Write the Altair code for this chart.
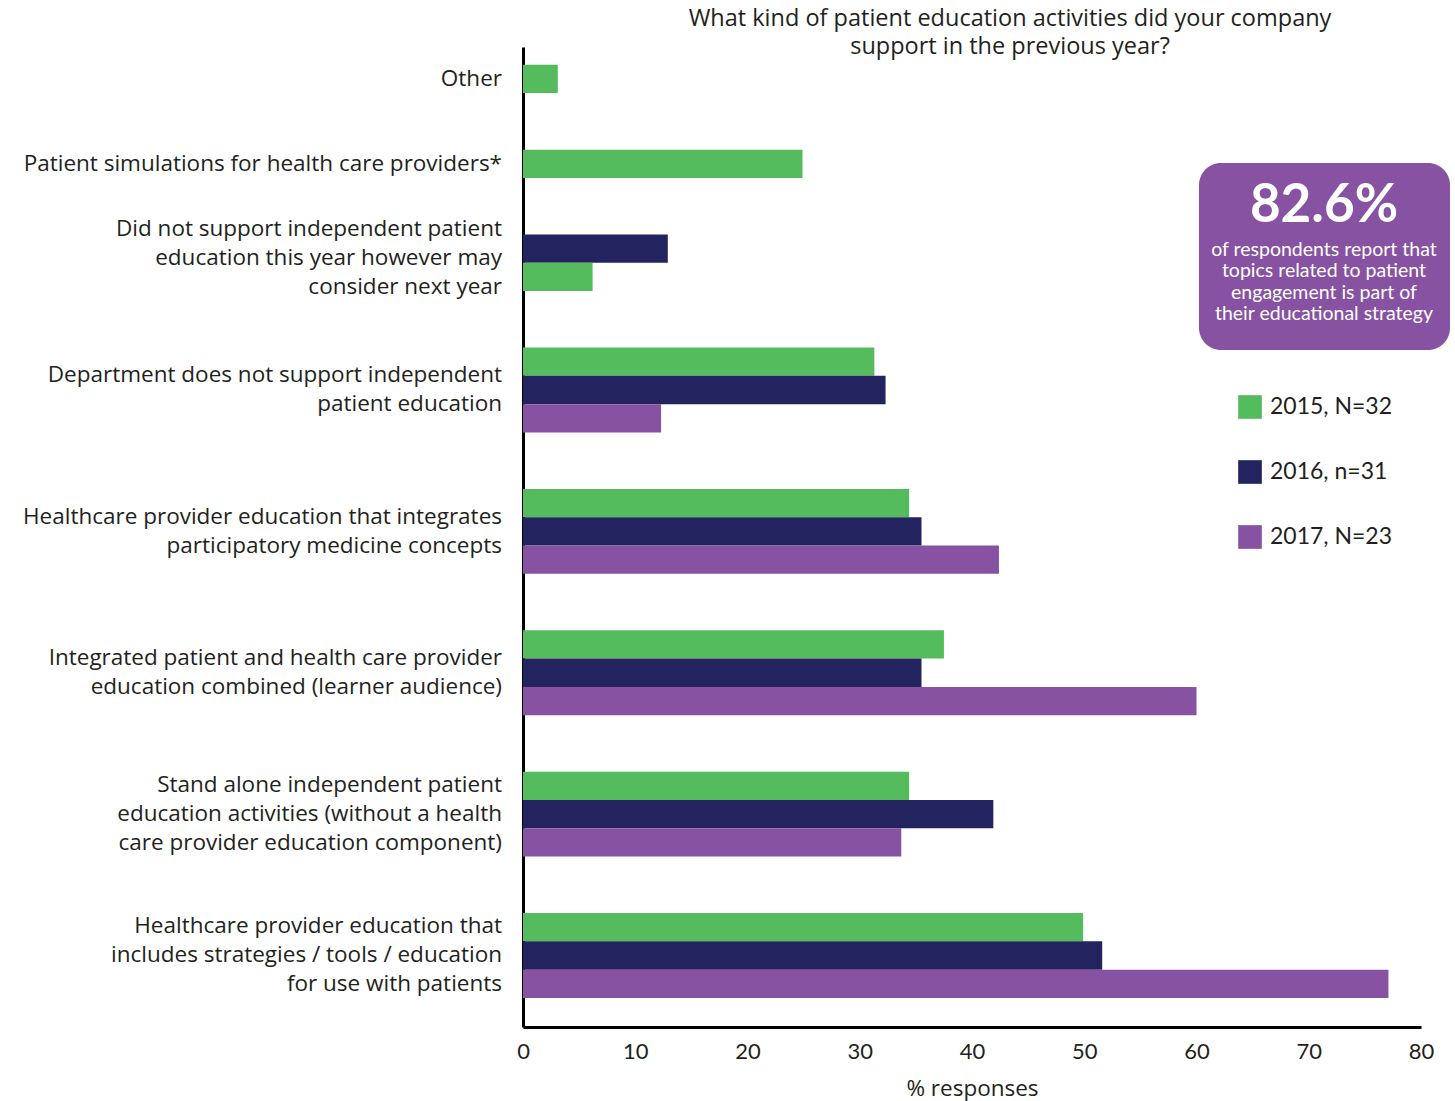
import altair as alt
import pandas as pd

categories = [
    "Other",
    "Patient simulations for health care providers*",
    "Did not support independent patient\neducation this year however may\nconsider next year",
    "Department does not support independent\npatient education\u00a0",
    "Healthcare provider education that integrates\u00a0\nparticipatory medicine concepts",
    "Integrated patient and health care provider\u00a0\neducation combined (learner audience)",
    "Stand alone independent patient\neducation activities (without a health\ncare provider education component)",
    "Healthcare provider education that\nincludes strategies / tools / education\nfor use with patients",
]
series = ["2015, N=32", "2016, n=31", "2017, N=23"]
v2015 = [3.1, 24.9, 6.2, 31.3, 34.4, 37.5, 34.4, 49.9]
v2016 = [None, None, 12.9, 32.3, 35.5, 35.5, 41.9, 51.6]
v2017 = [None, None, None, 12.3, 42.4, 60.0, 33.7, 77.1]
colors = ["#55BC5D", "#23235F", "#8652A1"]

title_lines = ["What kind of patient education activities did your company",
               "support in the previous year?"]
callout_big = "82.6%"
callout_small = "of respondents report that\ntopics related to patient\nengagement is part of\ntheir educational strategy"

FONT = "Open Sans"
NUMFONT = "Lato"
TXT = "#231F20"
LH = 29

# Build bar rows and y band domain (spacer bands between groups)
rows, domain, label_specs = [], [], []
for i, cat in enumerate(categories):
    if i > 0:
        domain += [f"gap{i}a", f"gap{i}b"]
    vals = {series[0]: v2015[i], series[1]: v2016[i], series[2]: v2017[i]}
    order = series if i != 2 else [series[1], series[0], series[2]]
    present = [s for s in order if vals[s] is not None]
    keys = []
    for s in present:
        k = f"{i}|{s}"
        keys.append(k)
        domain.append(k)
        rows.append({"key": k, "series": s, "value": vals[s]})
    nlines = cat.count("\n") + 1
    shift = -(nlines - 1) * LH / 2
    if len(keys) % 2 == 1:
        label_specs.append((keys[len(keys) // 2], cat, shift))
    else:
        label_specs.append((keys[0], cat, shift + 9))

df = pd.DataFrame(rows)
yscale = alt.Scale(domain=domain, paddingInner=0, paddingOuter=0.83, align=0.38)

bars = alt.Chart(df).mark_bar().encode(
    x=alt.X("value:Q",
            scale=alt.Scale(domain=[0, 80], nice=False),
            axis=alt.Axis(values=list(range(0, 81, 10)), ticks=False, grid=False,
                          domainColor="black", domainWidth=3, labelFlush=False,
                          labelFontSize=22, labelFont=NUMFONT, labelColor=TXT, labelPadding=14,
                          title="% responses", titleFontSize=22.5, titleFont=FONT,
                          titleFontWeight="normal", titleColor=TXT, titlePadding=15)),
    y=alt.Y("key:N", scale=yscale,
            axis=alt.Axis(labels=False, ticks=False, grid=False, title=None,
                          domainColor="black", domainWidth=3)),
    color=alt.Color("series:N",
                    scale=alt.Scale(domain=series, range=colors),
                    legend=alt.Legend(orient="none", legendX=715, legendY=348, title=None,
                                      symbolType="square", symbolSize=560,
                                      symbolStrokeWidth=0, symbolOpacity=1,
                                      labelFontSize=23, labelFont=NUMFONT, labelColor=TXT,
                                      rowPadding=41, labelOffset=8, padding=0)),
)

label_layers = []
for key, text, dy in label_specs:
    label_layers.append(
        alt.Chart(pd.DataFrame({"key": [key], "label": [text]})).mark_text(
            align="right", baseline="middle", lineBreak="\n", lineHeight=LH,
            fontSize=22.5, font=FONT, color=TXT, dy=dy
        ).encode(x=alt.value(-21), y=alt.Y("key:N", scale=yscale), text="label:N")
    )

title_layers = []
for j, line in enumerate(title_lines):
    title_layers.append(
        alt.Chart(pd.DataFrame({"t": [line]})).mark_text(
            align="center", baseline="middle", fontSize=23.5, font=FONT, color=TXT
        ).encode(x=alt.value(487), y=alt.value(-28 + 28 * j), text="t:N")
    )

box = alt.Chart(pd.DataFrame({"t": [callout_big]})).mark_rect(
    color="#8652A1", cornerRadius=22
).encode(x=alt.value(676), x2=alt.value(927), y=alt.value(116), y2=alt.value(303))

big = alt.Chart(pd.DataFrame({"t": [callout_big]})).mark_text(
    align="center", baseline="middle", fontSize=53, fontWeight="bold",
    font=NUMFONT, color="white"
).encode(x=alt.value(801), y=alt.value(159), text="t:N")

small = alt.Chart(pd.DataFrame({"t": [callout_small]})).mark_text(
    align="center", baseline="middle", lineBreak="\n", lineHeight=21.3,
    fontSize=19.5, font=NUMFONT, color="white"
).encode(x=alt.value(801), y=alt.value(203), text="t:N")

chart = alt.layer(bars, *label_layers, *title_layers, box, big, small).properties(
    width=898, height=980,
    autosize=alt.AutoSizeParams(type="none"),
    padding={"left": 523, "top": 47, "right": 34, "bottom": 74},
    background="white",
).configure_view(strokeWidth=0)

chart.save("out.html", embed_options={"renderer": "svg", "actions": False})
